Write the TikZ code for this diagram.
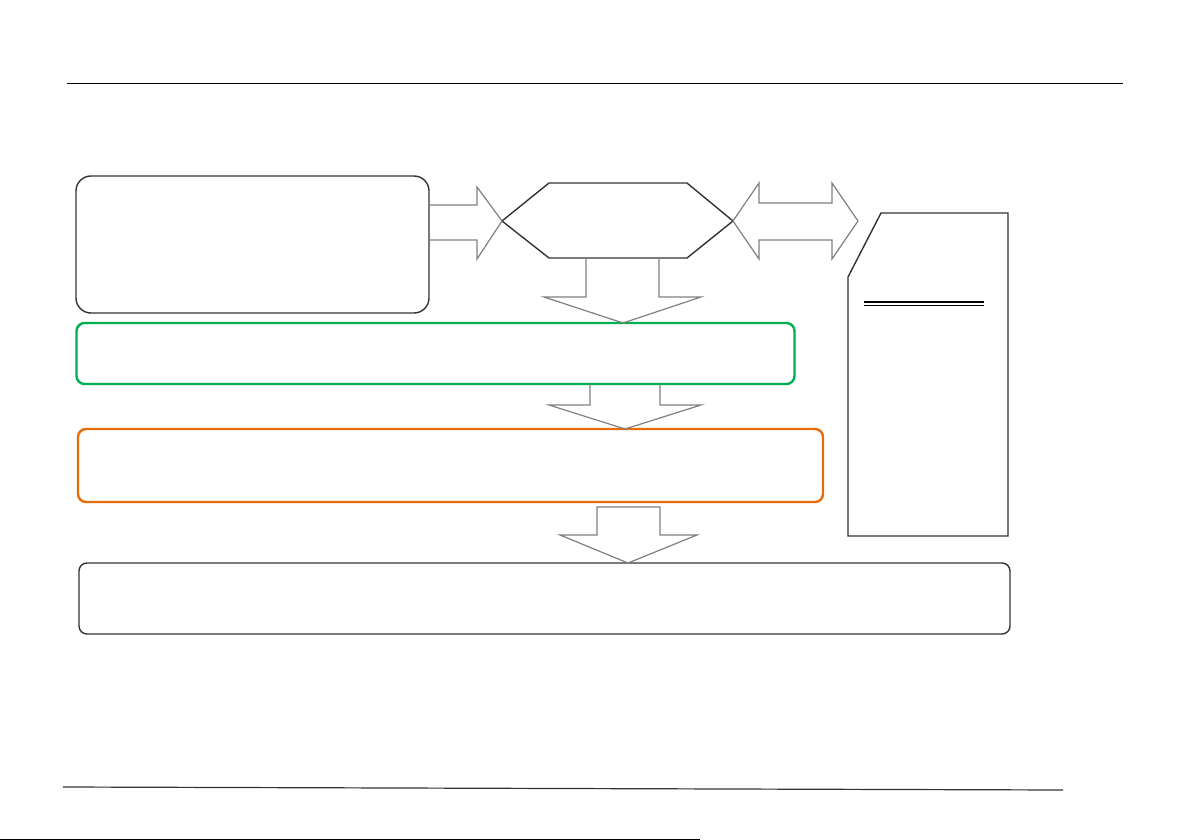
\documentclass[tikz,border=0pt]{standalone}
\usetikzlibrary{calc}
\definecolor{boxgray}{HTML}{333333}
\definecolor{arrowgray}{HTML}{808080}
\definecolor{boxgreen}{HTML}{00B050}
\definecolor{boxorange}{HTML}{E46C0A}
\begin{document}
\begin{tikzpicture}[x=1pt,y=-1pt,
  box/.style={draw=boxgray,line width=1.4pt,rounded corners=#1,inner sep=0pt},
  box/.default=8pt,
  colbox/.style={draw=#1,line width=2.4pt,rounded corners=8pt,inner sep=0pt},
  blockarrow/.style={draw=arrowgray,line width=1.2pt,line join=miter},
  shapeline/.style={draw=boxgray,line width=1.4pt,line join=miter}]
\useasboundingbox (0,0) rectangle (1192,840);
\fill[white] (0,0) rectangle (1192,840);
% header and footer rules
\draw[line width=1pt,black] (67,84) -- (1123,84);
\draw[line width=1.2pt,boxgray] (63,787) -- (1063,790);
\draw[line width=1.6pt,black] (0,839.4) -- (700,839.4);
% boxes
\node[box=15pt,minimum width=353pt,minimum height=137pt] (src) at (252.5,244.5) {};
\node[colbox=boxgreen,minimum width=718pt,minimum height=61pt] (green) at (435.5,353.5) {};
\node[colbox=boxorange,minimum width=745pt,minimum height=73pt] (orange) at (450.5,465.5) {};
\node[box,minimum width=931pt,minimum height=71pt] (result) at (544.5,598.5) {};
% hexagon
\draw[shapeline] (502,221) -- (549,183) -- (687,183) -- (733,221) -- (687,258) -- (549,258) -- cycle;
% document shape
\draw[shapeline] (881,213) -- (1008,213) -- (1008,536) -- (848,536) -- (848,277) -- cycle;
\draw[line width=2pt,black] (864,302.3) -- (984,302.3);
\draw[line width=0.8pt,black] (864,305.8) -- (984,305.8);
% block arrows
\draw[blockarrow] (src.east |- 0,205) -- (477,205) -- (477,187) -- (502,221) -- (477,259) -- (477,240) -- (src.east |- 0,240);
\draw[blockarrow] (733,221) -- (759,183) -- (759,203) -- (832,203) -- (832,183) -- (858,221) -- (832,259) -- (832,240) -- (759,240) -- (759,259) -- cycle;
\draw[blockarrow] (586,258) -- (586,297) -- (544,297) -- (623,323) -- (701,297) -- (659,297) -- (659,258);
\draw[blockarrow] (590,384) -- (590,405) -- (549,405) -- (625,429) -- (701,405) -- (660,405) -- (660,384);
\draw[blockarrow] (597,507) -- (597,535) -- (560,535) -- (628,563) -- (697,535) -- (660,535) -- (660,507) -- cycle;
\end{tikzpicture}
\end{document}
